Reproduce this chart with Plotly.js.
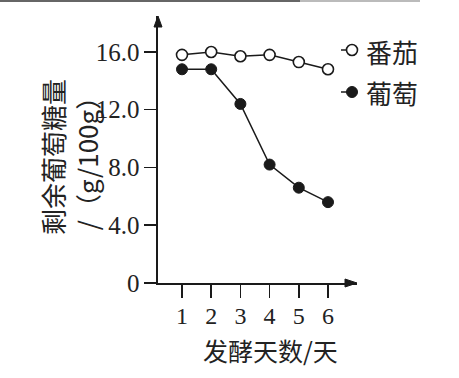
<!DOCTYPE html>
<html>
<head>
<meta charset="utf-8">
<script src="https://cdn.plot.ly/plotly-3.0.1.min.js"></script>
<style>html,body{margin:0;padding:0;background:#fff;}#chart{width:459px;height:378px;}</style>
</head>
<body>
<div id="chart"></div>
<script>
// Data
const days = [1, 2, 3, 4, 5, 6];
const tomato = [15.8, 16.0, 15.7, 15.8, 15.3, 14.8];   // 番茄
const grape = [14.8, 14.8, 12.4, 8.2, 6.6, 5.6];       // 葡萄
const seriesNames = ['番茄', '葡萄'];
const yTickVals = [0, 4, 8, 12, 16];
const yTickText = ['0', '4.0', '8.0', '12.0', '16.0'];
const xTickVals = [1, 2, 3, 4, 5, 6];
const xTickText = ['1', '2', '3', '4', '5', '6'];

const ink = '#1a1a1a';
const serif = '"Liberation Serif", "DejaVu Serif", serif';
const cjk = '"Noto Sans CJK SC", "Noto Sans", sans-serif';

const traces = [
  {
    x: days, y: tomato, name: seriesNames[0], mode: 'lines+markers',
    line: {color: ink, width: 1.5},
    marker: {symbol: 'circle', size: 11, color: '#fff', line: {color: ink, width: 1.6}},
    cliponaxis: false, showlegend: false
  },
  {
    x: days, y: grape, name: seriesNames[1], mode: 'lines+markers',
    line: {color: ink, width: 1.5},
    marker: {symbol: 'circle', size: 11, color: ink, line: {color: ink, width: 1}},
    cliponaxis: false, showlegend: false
  }
];

// plot area in pixels: left 158, right 357, top 16, bottom 283
const L = 158, R = 357, T = 16, B = 283;
const W = R - L, H = B - T;
const px = v => (v - L) / W;
const py = v => (B - v) / H;

const layout = {
  width: 459, height: 378,
  margin: {l: L, r: 459 - R, t: T, b: 378 - B, pad: 0},
  paper_bgcolor: '#fff', plot_bgcolor: '#fff',
  showlegend: false,
  xaxis: {
    range: [0.178, 6.993], showgrid: false, zeroline: false,
    showline: true, linecolor: ink, linewidth: 1.6,
    ticks: 'outside', ticklen: 13, tickwidth: 1.5, tickcolor: ink,
    tickvals: xTickVals, ticktext: xTickText, ticklabelstandoff: -2,
    tickfont: {family: serif, size: 24, color: '#222'}
  },
  yaxis: {
    range: [0, 18.49], showgrid: false, zeroline: false,
    showline: true, linecolor: ink, linewidth: 1.6,
    ticks: 'outside', ticklen: 12, tickwidth: 1.5, tickcolor: ink,
    tickvals: yTickVals, ticktext: yTickText, ticklabelstandoff: 0,
    tickfont: {family: serif, size: 25, color: '#222'}
  },
  shapes: [
    // axis arrowheads
    {type: 'path', xref: 'paper', yref: 'paper',
     path: `M ${-4/W},${py(27)} L 0,1 L ${4/W},${py(27)} Z`,
     fillcolor: ink, line: {color: ink, width: 1}},
    {type: 'path', xref: 'paper', yref: 'paper',
     path: `M ${px(345)},${-4/H} L 1,0 L ${px(345)},${4/H} Z`,
     fillcolor: ink, line: {color: ink, width: 1}},
    // legend symbols
    {type: 'line', xref: 'paper', yref: 'paper', x0: px(341), x1: px(351), y0: py(50), y1: py(50),
     line: {color: ink, width: 1.5}},
    {type: 'circle', xref: 'paper', yref: 'paper', xsizemode: 'pixel', ysizemode: 'pixel',
     xanchor: px(352), yanchor: py(50), x0: -5.5, x1: 5.5, y0: -5.5, y1: 5.5,
     fillcolor: '#fff', line: {color: ink, width: 1.6}},
    {type: 'line', xref: 'paper', yref: 'paper', x0: px(341), x1: px(351), y0: py(92), y1: py(92),
     line: {color: ink, width: 1.5}},
    {type: 'circle', xref: 'paper', yref: 'paper', xsizemode: 'pixel', ysizemode: 'pixel',
     xanchor: px(352), yanchor: py(92), x0: -5.5, x1: 5.5, y0: -5.5, y1: 5.5,
     fillcolor: ink, line: {color: ink, width: 1}},
    // scan border at top
    {type: 'line', xref: 'paper', yref: 'paper', x0: px(0), x1: px(300), y0: py(1), y1: py(1),
     line: {color: '#666', width: 2}},
    {type: 'line', xref: 'paper', yref: 'paper', x0: px(300), x1: px(420), y0: py(1), y1: py(1),
     line: {color: '#bbb', width: 2}}
  ],
  annotations: [
    {text: seriesNames[0], xref: 'paper', yref: 'paper', x: px(364), y: py(51),
     xanchor: 'left', yanchor: 'middle', showarrow: false,
     font: {family: cjk, size: 26, color: '#222'}},
    {text: seriesNames[1], xref: 'paper', yref: 'paper', x: px(364), y: py(92),
     xanchor: 'left', yanchor: 'middle', showarrow: false,
     font: {family: cjk, size: 26, color: '#222'}},
    {text: '发酵天数/天', xref: 'paper', yref: 'paper', x: px(270), y: py(350),
     xanchor: 'center', yanchor: 'middle', showarrow: false,
     font: {family: cjk, size: 25, color: '#222'}},
    {text: '剩余葡萄糖量<br>/（g/100g）', xref: 'paper', yref: 'paper', x: px(69), y: py(157),
     xanchor: 'center', yanchor: 'middle', showarrow: false, textangle: -90,
     font: {family: cjk, size: 26, color: '#222'}}
  ]
};

Plotly.newPlot('chart', traces, layout, {displayModeBar: false, staticPlot: true});
</script>
</body>
</html>
